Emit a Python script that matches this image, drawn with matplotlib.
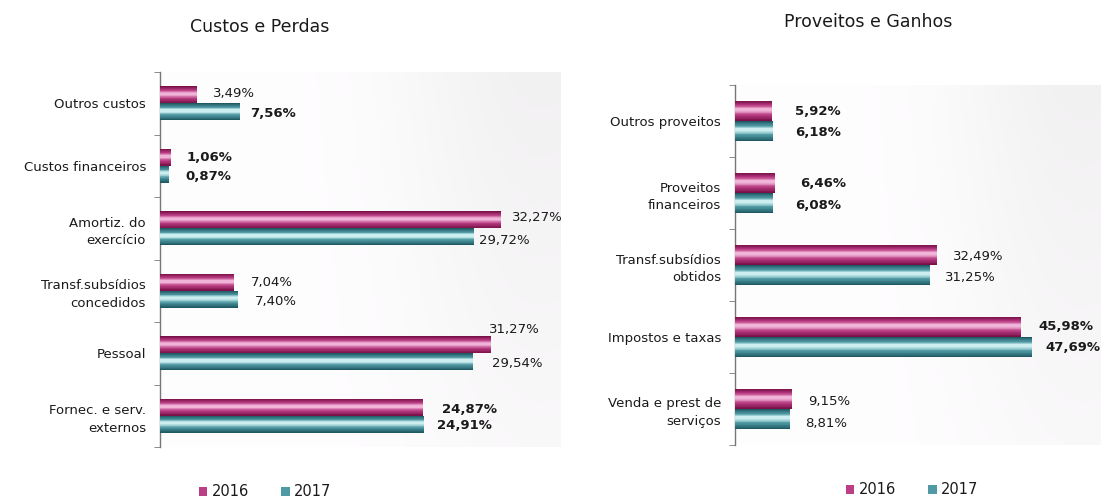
import numpy as np
import matplotlib
matplotlib.use("Agg")
import matplotlib.pyplot as plt
from matplotlib.patches import Patch
from matplotlib.colors import to_rgb

# ---------------- data ----------------
cost_categories = ["Outros custos", "Custos financeiros", "Amortiz. do\nexercício",
                   "Transf.subsídios\nconcedidos", "Pessoal", "Fornec. e serv.\nexternos"]
cost_2016 = [3.49, 1.06, 32.27, 7.04, 31.27, 24.87]
cost_2017 = [7.56, 0.87, 29.72, 7.40, 29.54, 24.91]

rev_categories = ["Outros proveitos", "Proveitos\nfinanceiros", "Transf.subsídios\nobtidos",
                  "Impostos e taxas", "Venda e prest de\nserviços"]
rev_2016 = [5.92, 6.46, 32.49, 45.98, 9.15]
rev_2017 = [6.18, 6.08, 31.25, 47.69, 8.81]

years = ["2016", "2017"]
titles = ["Custos e Perdas", "Proveitos e Ganhos"]

# ---------------- styles ----------------
plt.rcParams['font.family'] = ['DejaVu Sans']
MAG = ("#7a1048", "#bb3f85", "#f0b4d8")
TEAL = ("#1f5a63", "#4f9aa4", "#cdeef0")
TXT = "#1a1a1a"

# label offsets in pixels (dx, dy) and weights
cost_off16 = [(16, 1), (15, 0), (11, 2), (16, 0), (-2, 15), (19, -2)]
cost_off17 = [(10, -2), (16, -2), (5, -4), (17, -2), (19, -2), (13, -1)]
cost_w16 = ["normal", "bold", "normal", "normal", "normal", "bold"]
cost_w17 = ["bold", "bold", "normal", "normal", "normal", "bold"]
rev_off16 = [(23, -1), (25, -1), (16, -2), (17, 0), (16, -3)]
rev_off17 = [(22, -1), (22, -2), (15, -2), (13, 0), (15, -4)]
rev_w16 = ["bold", "bold", "normal", "bold", "normal"]
rev_w17 = ["bold", "bold", "normal", "bold", "normal"]

fig = plt.figure(figsize=(11.03, 5.0), dpi=100)
fig.patch.set_facecolor("white")

W, H = 1103.0, 500.0
ax1 = fig.add_axes([160 / W, 1 - 447 / H, 400 / W, 375 / H])
ax2 = fig.add_axes([735 / W, 1 - 445 / H, 365 / W, 360 / H])


def shade_bars(ax, y, vals, h, cols):
    dark, mid, light = [np.array(to_rgb(c)) for c in cols]
    n = 14
    ax.barh(y, vals, height=h, color=dark, linewidth=0, zorder=3)
    for k in range(1, n):
        t = k / (n - 1)
        if t < 0.6:
            c = dark + (mid - dark) * (t / 0.6)
        else:
            c = mid + (light - mid) * ((t - 0.6) / 0.4)
        hh = h * (1 - t * 0.85)
        ax.barh(y - h * 0.06 * t, vals, height=hh, color=np.clip(c, 0, 1),
                linewidth=0, zorder=3 + k * 0.01)


def panel(ax, cats, v16, v17, xmax, bh, off16, off17, w16, w17):
    n = len(cats)
    y = np.arange(n)
    shade_bars(ax, y - bh / 2, v16, bh, MAG)
    shade_bars(ax, y + bh / 2, v17, bh, TEAL)
    ax.set_xlim(0, xmax)
    ax.set_ylim(n - 0.5, -0.5)
    ax.set_yticks(y)
    ax.set_yticklabels(cats, fontsize=9.5, color=TXT, linespacing=1.45)
    ax.set_yticks(np.arange(n + 1) - 0.5, minor=True)
    ax.tick_params(axis="y", which="major", length=0, pad=10)
    ax.tick_params(axis="y", which="minor", length=4, color="#777777", direction="out")
    ax.set_xticks([])
    for s in ["top", "right", "bottom"]:
        ax.spines[s].set_visible(False)
    ax.spines["left"].set_color("#777777")
    ax.spines["left"].set_linewidth(1.0)
    # very subtle background gradient
    xs = np.linspace(0, 1, 400)
    ys = np.linspace(0, 1, 200)
    X, Y = np.meshgrid(xs, ys)
    g = 1 - 0.05 * np.exp(-((X - 0.95) / 0.35) ** 2) * (0.4 + 0.6 * Y)
    rgb = np.dstack([g, g * 0.995, g])
    ax.imshow(rgb, extent=[0, 1, 0, 1], transform=ax.transAxes,
              aspect="auto", zorder=0, origin="lower", interpolation="bilinear")
    for i in range(n):
        ax.annotate(f"{v16[i]:.2f}%".replace(".", ","), (v16[i], i - bh / 2),
                    xytext=off16[i], textcoords="offset pixels", ha="left", va="center",
                    fontsize=9.5, color=TXT, fontweight=w16[i], zorder=10)
        ax.annotate(f"{v17[i]:.2f}%".replace(".", ","), (v17[i], i + bh / 2),
                    xytext=off17[i], textcoords="offset pixels", ha="left", va="center",
                    fontsize=9.5, color=TXT, fontweight=w17[i], zorder=10)


panel(ax1, cost_categories, cost_2016, cost_2017, 37.8, 0.27,
      cost_off16, cost_off17, cost_w16, cost_w17)
panel(ax2, rev_categories, rev_2016, rev_2017, 58.6, 0.28,
      rev_off16, rev_off17, rev_w16, rev_w17)

fig.text(260 / W, 1 - 27 / H, titles[0], ha="center", va="center", fontsize=12.5, color=TXT)
fig.text(868 / W, 1 - 22 / H, titles[1], ha="center", va="center", fontsize=12.5, color=TXT)

handles = [Patch(facecolor=MAG[1], edgecolor="none"), Patch(facecolor=TEAL[1], edgecolor="none")]
for cx, cy in [(265, 492), (912, 490)]:
    fig.legend(handles, years, loc="center", bbox_to_anchor=(cx / W, 1 - cy / H),
               ncol=2, frameon=False, fontsize=10.5, handlelength=0.6, handleheight=0.6,
               handletextpad=0.3, columnspacing=2.2, labelcolor=TXT)

fig.savefig("out.png", dpi=100, facecolor="white")
